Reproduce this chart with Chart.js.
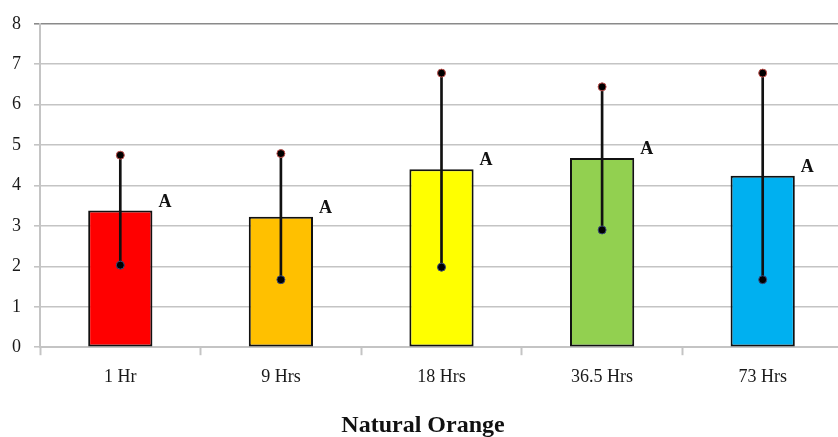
<!DOCTYPE html>
<html>
<head>
<meta charset="utf-8">
<script src="https://cdn.jsdelivr.net/npm/chart.js@4"></script>
<style>
  html, body { margin: 0; padding: 0; background: #fff; overflow: hidden; }
  #wrap { width: 848px; height: 440px; position: relative; }
</style>
</head>
<body>
<div id="wrap"><canvas id="chart"></canvas></div>
<script>
// ── Data ──────────────────────────────────────────────────────────────────────
const categories = ['1 Hr', '9 Hrs', '18 Hrs', '36.5 Hrs', '73 Hrs'];
const means      = [3.38, 3.23, 4.40, 4.68, 4.24];
const errHigh    = [4.75, 4.79, 6.78, 6.44, 6.78];
const errLow     = [2.03, 1.67, 1.98, 2.90, 1.67];
const letters    = ['A', 'A', 'A', 'A', 'A'];
const barColors  = ['#ff0000', '#ffc000', '#ffff00', '#92d050', '#00b0f0'];

const SERIF = '"Liberation Serif", "Times New Roman", serif';

// ── Letter labels next to each bar ────────────────────────────────────────────
const letterPlugin = {
  id: 'letters',
  afterDatasetsDraw(chart) {
    const ctx = chart.ctx;
    const meta = chart.getDatasetMeta(0);
    ctx.save();
    ctx.fillStyle = '#111';
    ctx.font = 'bold 18px ' + SERIF;
    ctx.textAlign = 'left';
    ctx.textBaseline = 'alphabetic';
    meta.data.forEach((bar, i) => {
      ctx.fillText(letters[i], bar.x + bar.width / 2 + 6, bar.y - 4);
    });
    ctx.restore();
  }
};

new Chart(document.getElementById('chart'), {
  type: 'bar',
  data: {
    labels: categories,
    datasets: [
      {
        data: means,
        backgroundColor: barColors,
        borderColor: '#111',
        borderWidth: 2,
        borderSkipped: false,
        barPercentage: 0.4,
        categoryPercentage: 1,
        grouped: false,
        order: 3,
      },
      {
        // error bar stems
        data: errLow.map((lo, i) => [lo, errHigh[i]]),
        backgroundColor: '#111',
        borderWidth: 0,
        barThickness: 2,
        grouped: false,
        order: 2,
      },
      {
        type: 'line',
        data: errHigh,
        showLine: false,
        pointRadius: 4,
        pointBackgroundColor: '#000',
        pointBorderColor: '#c0504d',
        pointBorderWidth: 1,
        order: 1,
      },
      {
        type: 'line',
        data: errLow,
        showLine: false,
        pointRadius: 4,
        pointBackgroundColor: '#000',
        pointBorderColor: '#3a4a7a',
        pointBorderWidth: 1,
        order: 1,
      },
    ],
  },
  options: {
    responsive: true,
    maintainAspectRatio: false,
    animation: false,
    layout: { padding: { top: 22, right: 2, left: 0, bottom: 0 } },
    plugins: {
      legend: { display: false },
      tooltip: { enabled: false },
      title: {
        display: true,
        position: 'bottom',
        text: 'Natural Orange',
        color: '#111',
        font: { family: SERIF, size: 24, weight: 'bold' },
        padding: { top: 4, bottom: 0 },
      },
    },
    scales: {
      x: {
        afterFit: s => { s.height = 60; },
        grid: {
          drawOnChartArea: false,
          offset: true,
          tickLength: 8,
          tickWidth: 2,
          tickColor: '#c4c4c4',
        },
        border: { color: '#c4c4c4', width: 2 },
        ticks: {
          color: '#1a1a1a',
          padding: 11,
          font: { family: SERIF, size: 18 },
        },
      },
      y: {
        min: 0,
        max: 8,
        afterFit: s => { s.width = 40; },
        grid: {
          color: c => (c.tick && c.tick.value === 8 ? '#8a8a8a' : '#c4c4c4'),
          lineWidth: 1.6,
          tickLength: 6,
        },
        border: { color: '#c4c4c4', width: 2 },
        ticks: {
          stepSize: 1,
          color: '#1a1a1a',
          padding: 13,
          font: { family: SERIF, size: 18 },
        },
      },
    },
  },
  plugins: [letterPlugin],
});
</script>
</body>
</html>
